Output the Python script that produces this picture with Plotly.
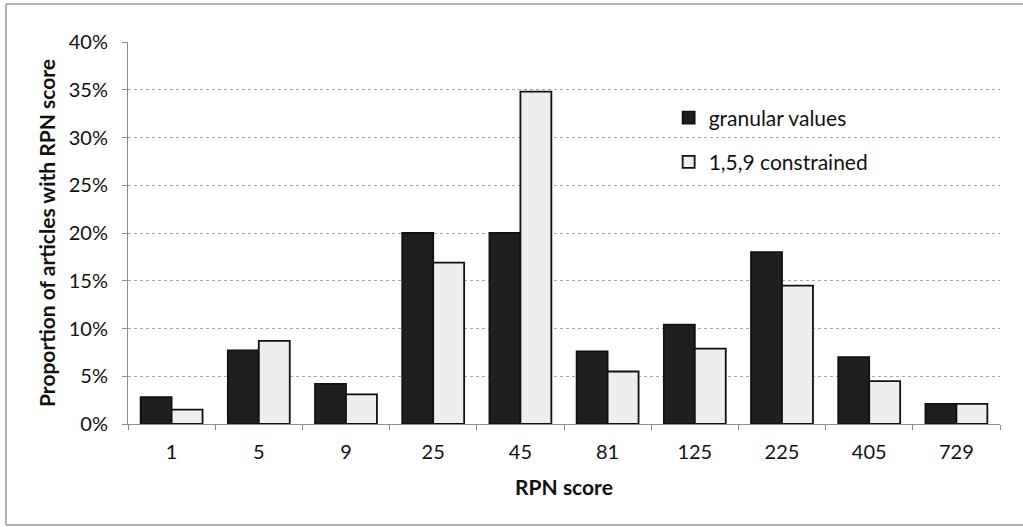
import plotly.graph_objects as go

# RPN score categories and the share of articles in each
rpn_scores = ["1", "5", "9", "25", "45", "81", "125", "225", "405", "729"]
granular_values = [0.028, 0.077, 0.042, 0.200, 0.200, 0.076, 0.104, 0.180, 0.070, 0.021]
constrained_159 = [0.015, 0.087, 0.031, 0.169, 0.348, 0.055, 0.079, 0.145, 0.045, 0.021]

y_ticks = [0, 0.05, 0.10, 0.15, 0.20, 0.25, 0.30, 0.35, 0.40]

FONT = "Lato"
TEXT = "#111111"

fig = go.Figure()
fig.add_trace(go.Bar(
    x=rpn_scores, y=granular_values, name="granular values",
    marker=dict(color="#1f1f1f", line=dict(color="#111111", width=1.8)),
    legendgroup="a",
))
fig.add_trace(go.Bar(
    x=rpn_scores, y=constrained_159, name="1,5,9 constrained",
    marker=dict(color="#eeeeee", line=dict(color="#111111", width=1.8)),
    legendgroup="b",
))

fig.update_layout(
    width=1023, height=527,
    margin=dict(l=128, r=23, t=42, b=103),
    paper_bgcolor="white", plot_bgcolor="white",
    barmode="group", bargap=0.29, bargroupgap=0,
    font=dict(family=FONT, size=20, color=TEXT),
    showlegend=True,
    legend=dict(
        x=0.62, y=0.855, xanchor="left", yanchor="top",
        bgcolor="rgba(0,0,0,0)", font=dict(size=21, color=TEXT),
        traceorder="grouped", tracegroupgap=14,
        itemwidth=30,
    ),
    xaxis=dict(
        type="category",
        showline=True, linecolor="#8c8c8c", linewidth=1,
        ticks="outside", ticklen=5, tickcolor="#8c8c8c", tickson="boundaries",
        tickfont=dict(size=20, color=TEXT),
        ticklabelstandoff=10,
        title=dict(text="<b>RPN score</b>", font=dict(size=21, color=TEXT), standoff=18),
        showgrid=False,
    ),
    yaxis=dict(
        range=[0, 0.40],
        tickvals=y_ticks, tickformat=".0%",
        showline=True, linecolor="#8c8c8c", linewidth=1,
        ticks="outside", ticklen=5, tickcolor="#8c8c8c",
        tickfont=dict(size=20, color=TEXT),
        ticklabelstandoff=10,
        showgrid=True, gridcolor="#a8a8a8", griddash="dot", gridwidth=1,
        zeroline=False,
        title=dict(text="<b>Proportion of articles with RPN score</b>",
                   font=dict(size=21, color=TEXT), standoff=7),
    ),
)

# Outer frame around the chart area
frame = dict(type="line", xref="paper", yref="paper", line=dict(color="#9a9a9a", width=1.5))
x_left = -122 / 872
x_right = 1.03
y_top = 1 + 38 / 382
y_bot = -101 / 382
fig.add_shape(x0=x_left, x1=x_right, y0=y_top, y1=y_top, **frame)
fig.add_shape(x0=x_left, x1=x_left, y0=y_bot, y1=y_top, **frame)
fig.add_shape(x0=x_left, x1=x_right, y0=y_bot, y1=y_bot, **frame)

fig.write_html("out.html")
